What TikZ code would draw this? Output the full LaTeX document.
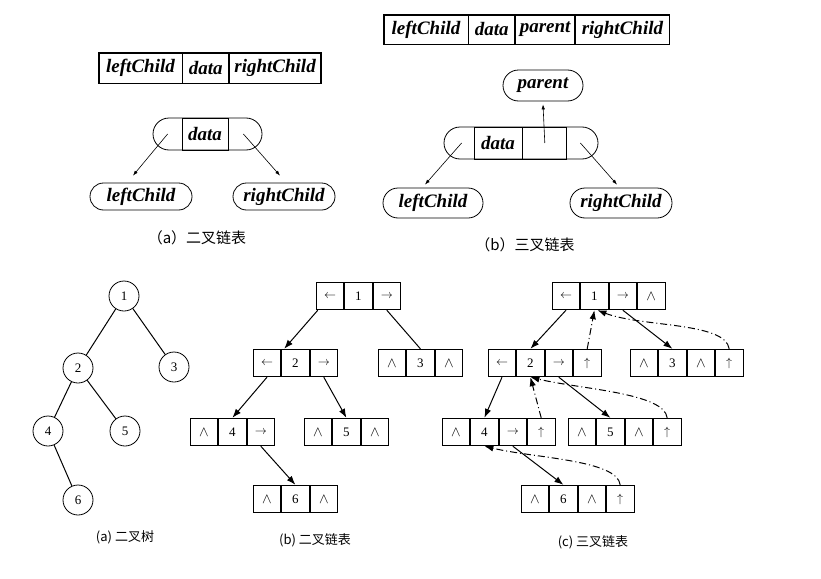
\documentclass[tikz,border=0pt]{standalone}
\usepackage{fontspec}
\setmainfont{Liberation Serif}
\newfontfamily\cjk{Noto Sans CJK SC}
\usetikzlibrary{arrows.meta, positioning}

% pointer symbols in the list cells
\newcommand{\lptr}{{\fontsize{12}{12}\selectfont$\leftarrow$}}
\newcommand{\rptr}{{\fontsize{12}{12}\selectfont$\rightarrow$}}
\newcommand{\pptr}{{\fontsize{13}{12}\selectfont$\uparrow$}}
\newcommand{\nptr}{{\fontsize{14}{12}\selectfont$\wedge$}}

% a row of cells: name, position of first cell, contents
\newcommand{\listnode}[3]{%
  \foreach \txt [count=\i, remember=\i as \j (initially 0)] in {#3}{%
    \ifnum\i=1
      \node[cell] (#1-\i) at (#2) {\txt};
    \else
      \node[cell, right=0pt of #1-\j] (#1-\i) {\txt};
    \fi
  }%
}

\begin{document}
\begin{tikzpicture}[
  x=1pt, y=-1pt,
  font=\fontsize{13}{15}\selectfont,
  field/.style={rectangle, draw, line width=0.8pt, inner sep=0pt,
                minimum height=30pt, font=\fontsize{19}{20}\selectfont\bfseries\itshape},
  pill/.style={rectangle, draw, rounded corners=#1, line width=0.8pt,
               inner sep=0pt, font=\fontsize{19}{20}\selectfont\bfseries\itshape},
  cell/.style={rectangle, draw, line width=0.9pt, inner sep=0pt,
               minimum width=27.5pt, minimum height=27.5pt},
  vertex/.style={circle, draw, line width=0.8pt, minimum size=30pt, inner sep=0pt},
  ptr/.style={-{Latex[length=5pt, width=3.5pt]}, line width=0.6pt},
  edge/.style={line width=1pt},
  link/.style={-{Latex[length=9pt, width=6.5pt]}, line width=1pt},
  plink/.style={link, dash pattern=on 7pt off 3pt on 1pt off 3pt},
  caption/.style={font=\cjk\fontsize{13}{15}\selectfont},
]
\useasboundingbox (0,0) rectangle (821,578);

% (a) binary linked node layout
\node[field, minimum width=83pt] (ta-1) at (140.5,68) {leftChild};
\node[field, minimum width=46pt, right=0pt of ta-1] (ta-2) {data};
\node[field, minimum width=91pt, right=0pt of ta-2] (ta-3) {rightChild};
\draw[line width=1.2pt] (ta-1.north west) rectangle (ta-3.south east);

\node[pill=16pt, minimum width=109pt, minimum height=32pt] (pa) at (207.5,134) {};
\node[field, minimum width=46pt, minimum height=32pt] (pad) at (205,134) {data};
\node[pill=13.5pt, minimum width=102pt, minimum height=27pt] (lca) at (141,196.5) {leftChild};
\node[pill=13.5pt, minimum width=102pt, minimum height=27pt] (rca) at (284,196.5) {rightChild};
\draw[ptr] ([xshift=15pt]pa.west) -- ([xshift=-8pt, yshift=7pt]lca.north);
\draw[ptr] ([xshift=-19pt]pa.east) -- ([xshift=-4pt, yshift=7pt]rca.north);
\node[font=\cjk\fontsize{15}{17}\selectfont] (capa) at (197,238) {（a）二叉链表};

% (b) trinary linked node layout
\node[field, minimum width=84pt, minimum height=29pt] (tb-1) at (426,29.5) {leftChild};
\node[field, minimum width=46pt, minimum height=29pt, right=0pt of tb-1] (tb-2) {data};
\node[field, minimum width=59pt, minimum height=29pt, right=0pt of tb-2] (tb-3) {parent};
\node[field, minimum width=94pt, minimum height=29pt, right=0pt of tb-3] (tb-4) {rightChild};
\draw[line width=1.2pt] (tb-1.north west) rectangle (tb-4.south east);

\node[pill=15.5pt, minimum width=80pt, minimum height=31pt] (par) at (543,85.5) {parent};
\node[pill=16pt, minimum width=154pt, minimum height=32pt] (pb) at (521,143) {};
\node[field, minimum width=48pt, minimum height=32pt] (pbd) at (498,143) {data};
\node[field, minimum width=44pt, minimum height=32pt, right=0pt of pbd] (pbp) {};
\node[pill=15pt, minimum width=100pt, minimum height=30pt] (lcb) at (433,203) {leftChild};
\node[pill=15pt, minimum width=102pt, minimum height=30pt] (rcb) at (621,203) {rightChild};
\draw[ptr] (pbp.center) -- ([yshift=-3pt]par.south);
\draw[ptr] ([xshift=18pt]pb.west) -- ([xshift=-8pt, yshift=3pt]lcb.north);
\draw[ptr] ([xshift=-18pt]pb.east) -- ([xshift=-4pt, yshift=3pt]rcb.north);
\node[font=\cjk\fontsize{15}{17}\selectfont] (capb) at (525,245) {（b）三叉链表};

% (a) binary tree
\node[vertex] (v1) at (124,296) {1};
\node[vertex] (v2) at (78,368) {2};
\node[vertex] (v3) at (174,367) {3};
\node[vertex] (v4) at (48,431) {4};
\node[vertex] (v5) at (125,431) {5};
\node[vertex] (v6) at (78,500) {6};
\draw[edge] (v1) -- (v2);
\draw[edge] (v1) -- (v3);
\draw[edge] (v2) -- (v4);
\draw[edge] (v2) -- (v5);
\draw[edge] (v4) -- (v6);
\node[caption] (captree) at (125,537) {(a)\ 二叉树};

% (b) binary linked list
\listnode{b1}{330,296}{\lptr, 1, \rptr}
\listnode{b2}{267,363}{\lptr, 2, \rptr}
\listnode{b3}{392,363}{\nptr, 3, \nptr}
\listnode{b4}{204,432}{\nptr, 4, \rptr}
\listnode{b5}{318,432}{\nptr, 5, \nptr}
\listnode{b6}{267,499}{\nptr, 6, \nptr}
\draw[link] ([xshift=2pt]b1-1.south west) -- ([xshift=3pt]b2-2.north west);
\draw[edge] (b1-3.south) -- (b3-2.north);
\draw[link] (b2-1.south) -- (b4-2.north);
\draw[link] (b2-3.south) -- (b5-2.north);
\draw[link] (b4-3.south) -- (b6-2.north);
\node[caption] (capbin) at (315,540) {(b)\ 二叉链表};

% (c) trinary linked list
\listnode{c1}{566,296}{\lptr, 1, \rptr, \nptr}
\listnode{c2}{502,363}{\lptr, 2, \rptr, \pptr}
\listnode{c3}{644,363}{\nptr, 3, \nptr, \pptr}
\listnode{c4}{456,432}{\nptr, 4, \rptr, \pptr}
\listnode{c5}{582,432}{\nptr, 5, \nptr, \pptr}
\listnode{c6}{535,499}{\nptr, 6, \nptr, \pptr}
\draw[link] (c1-1.south) -- (c2-2.north);
\draw[link] (c1-3.south) -- (c3-2.north);
\draw[link] (c2-1.south) -- (c4-2.north);
\draw[link] (c2-3.south) -- (c5-2.north);
\draw[link] (c4-3.south) -- (c6-2.north);
% parent pointers
\draw[plink] (c2-4.north) -- (c1-2.south);
\draw[plink] (c3-4.north) .. controls +(-4,-27) and +(44,17) .. ([xshift=3pt]c1-2.south);
\draw[plink] (c4-4.north) -- (c2-2.south);
\draw[plink] (c5-4.north) .. controls +(-3,-25) and +(50,12) .. (c2-2.south);
\draw[plink] (c6-4.north) .. controls +(-3,-25) and +(50,12) .. (c4-2.south);
\node[caption] (captri) at (593,542) {(c)\ 三叉链表};

\end{tikzpicture}
\end{document}
